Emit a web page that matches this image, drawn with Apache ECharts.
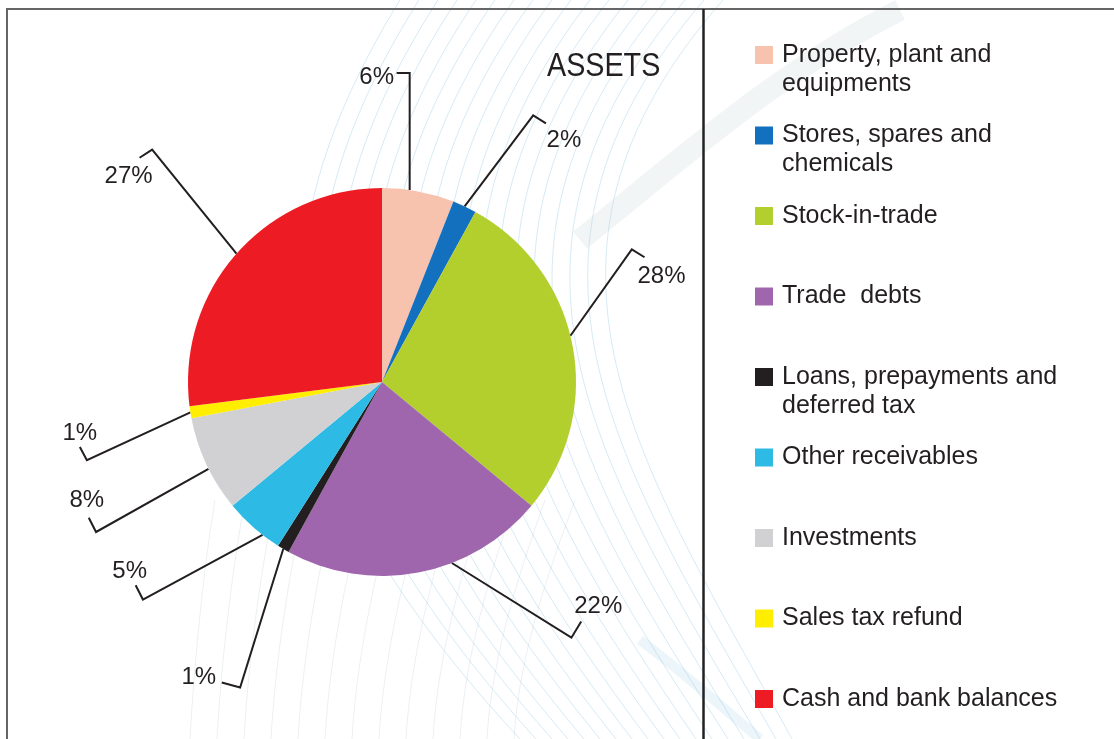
<!DOCTYPE html>
<html>
<head>
<meta charset="utf-8">
<script src="https://cdn.jsdelivr.net/npm/echarts@6/dist/echarts.min.js"></script>
<style>
  html, body { margin: 0; padding: 0; background: #ffffff; }
  #chart { width: 1114px; height: 739px; }
</style>
</head>
<body>
<div id="chart"></div>
<script>
// Asset mix, clockwise from twelve o'clock
const categories = [
  'Property, plant and\nequipments',
  'Stores, spares and\nchemicals',
  'Stock-in-trade',
  'Trade  debts',
  'Loans, prepayments and\ndeferred tax',
  'Other receivables',
  'Investments',
  'Sales tax refund',
  'Cash and bank balances'
];
const shares = [6, 2, 28, 22, 1, 5, 8, 1, 27];
const sliceColors = ['#F8C3AE', '#1270BE', '#B3CF2E', '#A066AD', '#231F20', '#2DBAE4', '#D1D1D3', '#FFEE00', '#ED1C24'];
const chartTitle = 'ASSETS';

// Leader-line styling per slice
const anchorShift = [-2.6, 0, -3, -10.3, 0, -3.4, -1.4, 0, 0];      // deg, where the line leaves the rim
const leaderHeading = [0, 37, 35.4, 122, 197.3, 241.6, 240.7, 245.2, 321]; // deg clockwise from up
const leaderLength = [117, 114, 106, 141, 145, 136, 129, 114, 134];
const tickHeading = [270, 122, 122, 31, 285, 333, 333, 332, 237];
const tickLength = [13, 15, 15, 19, 19, 16, 16, 15, 15];
const labelShift = [[-20, 4], [18, 17], [17, 19], [17, -15], [-23, -5], [-6, -14], [-2, -17], [0, -14], [-11, 19]];

const PIE_CX = 382, PIE_CY = 382, PIE_R = 194;
const INK = '#231F20';
const FONT = '"Liberation Sans", Arial, Helvetica, sans-serif';

const total = shares.reduce((a, b) => a + b, 0);
const midAngles = [];
(function () {
  let acc = 0;
  shares.forEach(v => { midAngles.push((acc + v / 2) / total * 360); acc += v; });
})();

function toRad(d) { return d * Math.PI / 180; }
function step(p, headingDeg, len) {
  const h = toRad(headingDeg);
  return [p[0] + Math.sin(h) * len, p[1] - Math.cos(h) * len];
}

// Faint decorative sweeps in the background
const decor = [];
for (let i = 0; i < 18; i++) {
  const tx = 400 + 19 * i, bx = 520 + 16 * i;
  decor.push({
    type: 'bezierCurve', z: 0, silent: true,
    shape: { x1: tx, y1: 0, cpx1: tx - 160 - 4 * i, cpy1: 260, cpx2: bx - 250 + 6 * i, cpy2: 470, x2: bx, y2: 739 },
    style: { stroke: 'rgba(120,185,220,0.30)', lineWidth: 1, fill: null }
  });
}
for (let i = 0; i < 13; i++) {
  const bx = 190 + 27 * i;
  decor.push({
    type: 'bezierCurve', z: 0, silent: true,
    shape: { x1: bx, y1: 739, cpx1: bx + 5, cpy1: 650, cpx2: bx + 15 + 2 * i, cpy2: 560, x2: bx + 25 + 3 * i, y2: 500 },
    style: { stroke: 'rgba(160,180,195,0.20)', lineWidth: 1, fill: null }
  });
}
decor.push({
  type: 'bezierCurve', z: 0, silent: true,
  shape: { x1: 580, y1: 240, cpx1: 680, cpy1: 160, cpx2: 780, cpy2: 70, x2: 900, y2: 10 },
  style: { stroke: 'rgba(195,208,216,0.22)', lineWidth: 22, fill: null }
});
decor.push({
  type: 'bezierCurve', z: 0, silent: true,
  shape: { x1: 640, y1: 640, cpx1: 680, cpy1: 670, cpx2: 720, cpy2: 705, x2: 760, y2: 739 },
  style: { stroke: 'rgba(150,200,230,0.18)', lineWidth: 10, fill: null }
});

// Frame, divider and heading
const frame = [
  { type: 'line', z: 10, silent: true, shape: { x1: 6, y1: 9, x2: 1114, y2: 9 }, style: { stroke: '#666666', lineWidth: 2 } },
  { type: 'line', z: 10, silent: true, shape: { x1: 7, y1: 9, x2: 7, y2: 739 }, style: { stroke: '#666666', lineWidth: 2 } },
  { type: 'line', z: 10, silent: true, shape: { x1: 703.5, y1: 9, x2: 703.5, y2: 739 }, style: { stroke: '#222222', lineWidth: 2.5 } },
  {
    type: 'text', z: 10, silent: true, x: 547, y: 67, scaleX: 0.87,
    style: { text: chartTitle, font: '33px ' + FONT, fill: INK, align: 'left', verticalAlign: 'middle' }
  }
];

const chart = echarts.init(document.getElementById('chart'), null, { renderer: 'canvas' });

chart.setOption({
  animation: false,
  backgroundColor: '#ffffff',
  color: sliceColors,
  graphic: { elements: decor.concat(frame) },
  legend: {
    orient: 'vertical',
    left: 755,
    top: 11.5,
    height: 900,
    padding: 0,
    itemWidth: 18,
    itemHeight: 18,
    itemGap: -6.5,
    icon: 'rect',
    selectedMode: false,
    itemStyle: { borderWidth: 0 },
    textStyle: { fontSize: 25, lineHeight: 29, color: INK, fontFamily: FONT, padding: [0, 0, 0, 4] },
    // three text rows per entry so the marker sits beside the first printed line
    formatter: name => '\n' + name + (name.indexOf('\n') >= 0 ? '' : '\n ')
  },
  series: [{
    type: 'pie',
    z: 2,
    center: [PIE_CX, PIE_CY],
    radius: PIE_R,
    startAngle: 90,
    clockwise: true,
    avoidLabelOverlap: false,
    itemStyle: { borderWidth: 0 },
    emphasis: { disabled: true },
    label: {
      show: true,
      position: 'outside',
      formatter: '{c}%',
      fontSize: 24,
      fontFamily: FONT,
      color: INK
    },
    labelLine: {
      show: true,
      length: 20,
      length2: 10,
      smooth: false,
      lineStyle: { color: INK, width: 2 }
    },
    labelLayout: function (params) {
      const i = params.dataIndex;
      const a = toRad(midAngles[i] + anchorShift[i]);
      const p0 = [PIE_CX + Math.sin(a) * PIE_R, PIE_CY - Math.cos(a) * PIE_R];
      const p1 = step(p0, leaderHeading[i], leaderLength[i]);
      const p2 = step(p1, tickHeading[i], tickLength[i]);
      return {
        x: p2[0] + labelShift[i][0],
        y: p2[1] + labelShift[i][1],
        align: 'center',
        verticalAlign: 'middle',
        labelLinePoints: [p0, p1, p2]
      };
    },
    data: categories.map((name, i) => ({ name: name, value: shares[i] }))
  }]
});
</script>
</body>
</html>
